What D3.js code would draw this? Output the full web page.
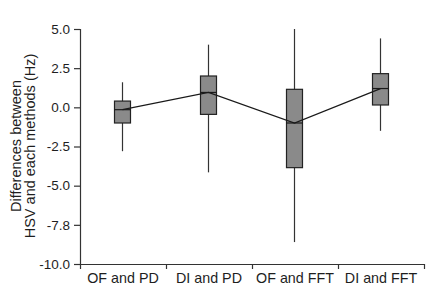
<!DOCTYPE html>
<html lang="en">
<head>
  <meta charset="utf-8">
  <title>Differences between HSV and each method</title>
  <script src="https://d3js.org/d3.v7.min.js"></script>
  <style>
    body { margin: 0; background: #fff; }
    text { font-family: Arial, "Liberation Sans", sans-serif; fill: #1e1e1e; }
    .axis path, .axis line { stroke: #333; stroke-width: 1.2; }
    .axis text { font-size: 13.5px; fill: #1e1e1e; }
    .box { fill: #8a8a8a; stroke: #222; stroke-width: 1.2; }
    .whisker { stroke: #333; stroke-width: 1.2; }
  </style>
</head>
<body>
<script>
  // data
  const categories = ["OF and PD", "DI and PD", "OF and FFT", "DI and FFT"];
  const whiskerLow = [-2.8, -4.15, -8.6, -1.5];
  const boxLow     = [-1.0, -0.45, -3.85, 0.15];
  const medians    = [-0.15, 0.95, -1.0, 1.2];
  const boxHigh    = [0.4, 2.0, 1.15, 2.15];
  const whiskerHigh = [1.6, 4.0, 5.0, 4.4];
  const yTicks = [5, 2.5, 0, -2.5, -5, -7.5, -10];
  const yTickLabels = ["5.0", "2.5", "0.0", "-2.5", "-5.0", "-7.8", "-10.0"];

  const width = 435, height = 294;
  const mLeft = 80, mRight = 424, mTop = 29, mBottom = 264;

  const svg = d3.select("body").append("svg")
    .attr("width", width)
    .attr("height", height);

  const x = d3.scaleBand().domain(categories).range([mLeft, mRight]).padding(0);
  const xEdge = d3.scaleLinear().domain([0, categories.length]).range([mLeft, mRight]);
  const y = d3.scaleLinear().domain([-10, 5]).range([mBottom, mTop]);

  const boxW = 16;
  const cx = i => x(categories[i]) + x.bandwidth() / 2 - 0.5;

  // whiskers
  categories.forEach((c, i) => {
    svg.append("line").attr("class", "whisker")
      .attr("x1", cx(i)).attr("x2", cx(i))
      .attr("y1", y(whiskerLow[i])).attr("y2", y(whiskerHigh[i]));
  });

  // boxes
  categories.forEach((c, i) => {
    svg.append("rect").attr("class", "box")
      .attr("x", cx(i) - boxW / 2)
      .attr("y", y(boxHigh[i]))
      .attr("width", boxW)
      .attr("height", y(boxLow[i]) - y(boxHigh[i]));
  });

  // line through the medians
  svg.append("path")
    .datum(medians)
    .attr("fill", "none")
    .attr("stroke", "#1a1a1a")
    .attr("stroke-width", 1.3)
    .attr("d", d3.line().x((d, i) => cx(i)).y(d => y(d)));

  // median ticks
  categories.forEach((c, i) => {
    svg.append("line")
      .attr("x1", cx(i) - boxW / 2).attr("x2", cx(i) + boxW / 2)
      .attr("y1", y(medians[i])).attr("y2", y(medians[i]))
      .attr("stroke", "#1a1a1a").attr("stroke-width", 1.2);
  });

  // y axis
  svg.append("g").attr("class", "axis")
    .attr("transform", "translate(" + mLeft + ",0)")
    .call(d3.axisLeft(y).tickValues(yTicks).tickSize(6).tickPadding(4)
      .tickFormat((d, i) => yTickLabels[i]));

  // x axis: tick marks at band edges, labels at band centres
  svg.append("g").attr("class", "axis")
    .attr("transform", "translate(0," + mBottom + ")")
    .call(d3.axisBottom(xEdge).tickValues(d3.range(categories.length + 1))
      .tickSize(5).tickSizeOuter(0).tickFormat(""));

  svg.append("g").attr("class", "axis")
    .attr("transform", "translate(0," + mBottom + ")")
    .call(d3.axisBottom(x).tickSize(0).tickPadding(9))
    .call(g => g.selectAll("text").style("font-size", "14.3px"))
    .call(g => g.select(".domain").remove());

  // y label
  const yl = svg.append("text")
    .attr("transform", "translate(21,146) rotate(-90)")
    .attr("text-anchor", "middle")
    .style("font-size", "14.5px");
  yl.append("tspan").attr("x", 0).attr("dy", 0).text("Differences between");
  yl.append("tspan").attr("x", 0).attr("dy", 14).text("HSV and each methods (Hz)");
</script>
</body>
</html>
